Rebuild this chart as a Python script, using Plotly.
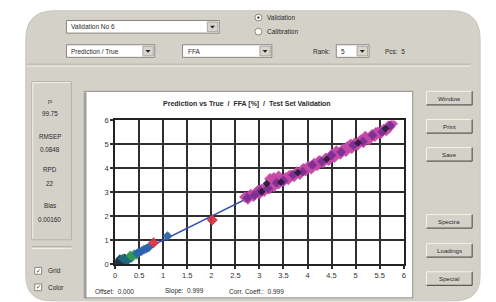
import plotly.graph_objects as go

W, H = 496, 302

# ---------------- data ----------------
x_ticks = [0, 0.5, 1, 1.5, 2, 2.5, 3, 3.5, 4, 4.5, 5, 5.5, 6]
x_tick_labels = ["0", "0.5", "1", "1.5", "2", "2.5", "3", "3.5", "4", "4.5", "5", "5.5", "6"]
y_ticks = [0, 1, 2, 3, 4, 5, 6]

low_dark_true = [0.04, 0.08, 0.12, 0.15, 0.18, 0.22, 0.25, 0.10, 0.20, 0.28]
low_dark_pred = [0.03, 0.10, 0.06, 0.16, 0.10, 0.18, 0.14, 0.20, 0.24, 0.22]
low_teal_true = [0.16, 0.24, 0.30, 0.34]
low_teal_pred = [0.22, 0.12, 0.30, 0.26]
low_green_true = [0.32, 0.36, 0.40, 0.44]
low_green_pred = [0.36, 0.32, 0.41, 0.38]
blue_true = [0.46, 0.50, 0.55, 0.60, 0.65, 0.70, 1.09]
blue_pred = [0.44, 0.50, 0.54, 0.60, 0.64, 0.70, 1.17]
red_true = [0.80, 2.02]
red_pred = [0.89, 1.84]

mag_true = [2.70, 2.76, 2.82, 2.88, 2.94, 3.00, 3.05, 3.10, 3.15, 3.20, 3.25, 3.30,
            3.35, 3.40, 3.45, 3.50, 3.55, 3.60, 3.66, 3.72, 3.78, 3.84, 3.90, 3.96,
            4.02, 4.08, 4.14, 4.20, 4.26, 4.32, 4.38, 4.44, 4.50, 4.56, 4.62, 4.68,
            4.74, 4.80, 4.86, 4.92, 4.98, 5.04, 5.10, 5.16, 5.22, 5.28, 5.34, 5.40,
            5.46, 5.52, 5.58, 5.64, 5.70, 5.76, 3.22, 3.30, 3.40, 4.60, 4.90, 5.20,
            2.98, 3.62, 3.92, 4.24, 4.52, 4.82, 5.12, 5.42, 5.68]
mag_pred = [2.80, 2.72, 2.90, 2.84, 3.00, 2.94, 3.12, 3.04, 3.22, 3.14, 3.34, 3.24,
            3.44, 3.36, 3.52, 3.46, 3.60, 3.54, 3.70, 3.66, 3.84, 3.76, 3.94, 3.90,
            4.08, 3.98, 4.20, 4.12, 4.30, 4.24, 4.42, 4.34, 4.56, 4.46, 4.66, 4.60,
            4.80, 4.72, 4.92, 4.84, 5.04, 4.98, 5.16, 5.08, 5.28, 5.20, 5.40, 5.34,
            5.50, 5.46, 5.62, 5.58, 5.72, 5.86, 3.56, 3.60, 3.66, 4.72, 5.00, 5.32,
            3.08, 3.68, 3.98, 4.30, 4.58, 4.88, 5.18, 5.48, 5.76]

pur_true = [2.75, 2.90, 3.02, 3.18, 3.36, 3.50, 3.70, 3.90, 4.10, 4.30, 4.50, 4.70,
            4.95, 5.15, 5.35, 5.55, 5.72]
pur_pred = [2.76, 2.88, 3.06, 3.16, 3.40, 3.48, 3.72, 3.86, 4.14, 4.28, 4.54, 4.68,
            4.96, 5.12, 5.38, 5.52, 5.78]

dark_true = [3.05, 3.15, 3.45, 3.80, 4.40, 5.05, 5.62]
dark_pred = [3.02, 3.36, 3.42, 3.82, 4.38, 5.06, 5.66]

fit_x = [0.0, 5.8]
fit_y = [0.0, 5.79]

# ---------------- helpers (pixel -> paper) ----------------
def px(x):
    return x / W

def py(y):
    return 1 - y / H

def P(x, y):
    return f"{px(x):.5f},{py(y):.5f}"

shapes = []
annotations = []

def rect(x0, y0, x1, y1, fill=None, line=None, lw=1):
    shapes.append(dict(type="rect", xref="paper", yref="paper",
                       x0=px(x0), x1=px(x1), y0=py(y1), y1=py(y0),
                       fillcolor=fill if fill else "rgba(0,0,0,0)",
                       line=dict(color=line if line else "rgba(0,0,0,0)", width=lw),
                       layer="below"))

def seg(x0, y0, x1, y1, color, lw=1):
    shapes.append(dict(type="line", xref="paper", yref="paper",
                       x0=px(x0), x1=px(x1), y0=py(y0), y1=py(y1),
                       line=dict(color=color, width=lw), layer="below"))

def text(x, y, s, size=7, anchor="center", bold=False, color="#2a2a2a"):
    annotations.append(dict(xref="paper", yref="paper", x=px(x), y=py(y),
                            text=f"<b>{s}</b>" if bold else s, showarrow=False,
                            xanchor=anchor, yanchor="middle",
                            font=dict(family="Liberation Sans, Arial, sans-serif",
                                      size=size, color=color)))

PANEL = "#d4d1c9"

# main rounded panel
path = ("M " + P(24, 36) + " Q " + P(24, 7) + " " + P(53, 7) +
        " L " + P(453, 7) + " Q " + P(482, 7) + " " + P(482, 36) +
        " L " + P(482, 280) + " Q " + P(482, 306) + " " + P(456, 306) +
        " L " + P(50, 306) + " Q " + P(24, 306) + " " + P(24, 280) + " Z")
shapes.append(dict(type="path", xref="paper", yref="paper", path=path,
                   fillcolor=PANEL, line=dict(color="#c9c6be", width=1), layer="below"))

# separator under top controls
seg(25, 62, 472, 62, "#b9b5ad", 1)
seg(25, 64, 472, 64, "#f0eee9", 1)

# dropdowns
def dropdown(x0, y0, x1, y1, label):
    rect(x0, y0, x1, y1, fill="#ffffff", line="#8a8780", lw=1)
    rect(x1 - 12, y0 + 1.5, x1 - 1.5, y1 - 1.5, fill="#d8d5ce", line="#9a978f", lw=0.8)
    cx = x1 - 6.8
    cy = (y0 + y1) / 2
    tri = "M " + P(cx - 2.5, cy - 1.2) + " L " + P(cx + 2.5, cy - 1.2) + " L " + P(cx, cy + 1.8) + " Z"
    shapes.append(dict(type="path", xref="paper", yref="paper", path=tri,
                       fillcolor="#222222", line=dict(width=0), layer="below"))
    text(x0 + 3, cy, label, size=6.5, anchor="left")

dropdown(65, 17, 219, 30, "Validation No 6")
dropdown(65, 42, 154, 55, "Prediction / True")
dropdown(182, 42, 272, 55, "FFA")
dropdown(337, 42, 370, 55, "5")
text(333, 48.5, "Rank:", size=6.5, anchor="right")
text(384, 48.5, "Pcs:&nbsp;&nbsp;5", size=6.5, anchor="left")

# radio buttons
for cy, lab, sel in [(14, "Validation", True), (28.5, "Calibration", False)]:
    shapes.append(dict(type="circle", xref="paper", yref="paper",
                       x0=px(255), x1=px(262), y0=py(cy + 3.5), y1=py(cy - 3.5),
                       fillcolor="#ffffff", line=dict(color="#8a8780", width=1), layer="below"))
    if sel:
        shapes.append(dict(type="circle", xref="paper", yref="paper",
                           x0=px(257.3), x1=px(259.7), y0=py(cy + 1.2), y1=py(cy - 1.2),
                           fillcolor="#222222", line=dict(width=0), layer="below"))
    text(265, cy, lab, size=6.5, anchor="left")

# left statistics box
rect(30, 80, 70, 243, fill=None, line="#b7b3ab", lw=1)
seg(31, 81, 69, 81, "#f2f0eb", 1)
seg(31, 81, 31, 242, "#f2f0eb", 1)
stats = [(100, "r²"), (113, "99.75"), (137, "RMSEP"), (150, "0.0848"),
         (171, "RPD"), (185, "22"), (208, "Bias"), (222, "0.00160")]
for yy, s in stats:
    text(48, yy, s, size=6.3)
seg(30, 250, 70, 250, "#b7b3ab", 1)
seg(30, 252, 70, 252, "#f2f0eb", 1)

# checkboxes
for cy, lab in [(275, "Grid"), (292, "Color")]:
    rect(33, cy - 3.5, 40, cy + 3.5, fill="#ffffff", line="#8a8780", lw=1)
    text(36.5, cy, "✓", size=6, color="#222222")
    text(44, cy, lab, size=6.5, anchor="left")

# right buttons
for cy, lab in [(97, "Window"), (126, "Print"), (155, "Save"),
                (224, "Spectra"), (254, "Loadings"), (283, "Special")]:
    rect(428, cy - 7, 474, cy + 7, fill=PANEL, line=None)
    seg(428, cy - 7, 474, cy - 7, "#f4f2ee", 1)
    seg(428, cy - 7, 428, cy + 7, "#f4f2ee", 1)
    seg(428, cy + 7, 474, cy + 7, "#5c5a55", 1.2)
    seg(474, cy - 7, 474, cy + 7, "#5c5a55", 1.2)
    text(451, cy, lab, size=6.2)

# white chart frame
rect(83, 90, 414, 303, fill="#ffffff", line="#a29f98", lw=1.2)
seg(84.5, 91, 84.5, 303, "#6e6b65", 1)

# chart title & stats below
text(247, 103, "Prediction vs True&nbsp;&nbsp;/&nbsp;&nbsp;FFA [%]&nbsp;&nbsp;/&nbsp;&nbsp;Test Set Validation",
     size=7, bold=True)
text(92, 296, "Offset:&nbsp;&nbsp;0.000", size=6.5, anchor="left")
text(162, 296, "Slope:&nbsp;&nbsp;0.999", size=6.5, anchor="left")
text(227, 296, "Corr. Coeff.:&nbsp;&nbsp;0.999", size=6.5, anchor="left")

# ---------------- traces ----------------
fig = go.Figure()

def pts(x, y, color, size=7.5, symbol="diamond", opacity=0.95):
    fig.add_trace(go.Scatter(x=x, y=y, mode="markers",
                             marker=dict(color=color, size=size, symbol=symbol,
                                         opacity=opacity, line=dict(width=0)),
                             showlegend=False, hoverinfo="x+y"))

fig.add_trace(go.Scatter(x=fit_x, y=fit_y, mode="lines",
                         line=dict(color="#3c4fa8", width=1.5),
                         showlegend=False, hoverinfo="skip"))
pts(mag_true, mag_pred, "#c548a6", size=9)
pts(pur_true, pur_pred, "#7a2f93", size=7.5)
pts(dark_true, dark_pred, "#2b1d3d", size=6)
pts(low_dark_true, low_dark_pred, "#1c3552", size=7.5)
pts(low_teal_true, low_teal_pred, "#1f6d7c", size=7.5)
pts(low_green_true, low_green_pred, "#2f9a55", size=7.5)
pts(blue_true, blue_pred, "#2d64ad", size=7.5)
pts(red_true, red_pred, "#d2374a", size=8.5)

axis_font = dict(family="Liberation Sans, Arial, sans-serif", size=7.5, color="#333333")

fig.update_layout(
    width=W, height=H,
    margin=dict(l=0, r=0, t=0, b=0),
    paper_bgcolor="#ffffff",
    plot_bgcolor="rgba(0,0,0,0)",
    shapes=shapes,
    annotations=annotations,
    xaxis=dict(domain=[px(114), px(405)], range=[0, 6],
               tickvals=x_ticks, ticktext=x_tick_labels,
               showgrid=True, gridcolor="#2e2e2e", gridwidth=1.8,
               showline=True, linecolor="#222222", linewidth=1.8, mirror=True,
               ticks="outside", ticklen=3, tickcolor="#2e2e2e", tickwidth=1.5,
               zeroline=False, tickfont=axis_font, fixedrange=True),
    yaxis=dict(domain=[py(268), py(120)], range=[0, 6],
               tickvals=y_ticks,
               showgrid=True, gridcolor="#2e2e2e", gridwidth=1.8,
               showline=True, linecolor="#222222", linewidth=1.8, mirror=True,
               ticks="outside", ticklen=3, tickcolor="#2e2e2e", tickwidth=1.5,
               zeroline=False, tickfont=axis_font, fixedrange=True),
)

fig.write_html("out.html", config={"displayModeBar": False},
               post_script="document.body.style.margin='0';document.body.style.overflow='hidden';")
